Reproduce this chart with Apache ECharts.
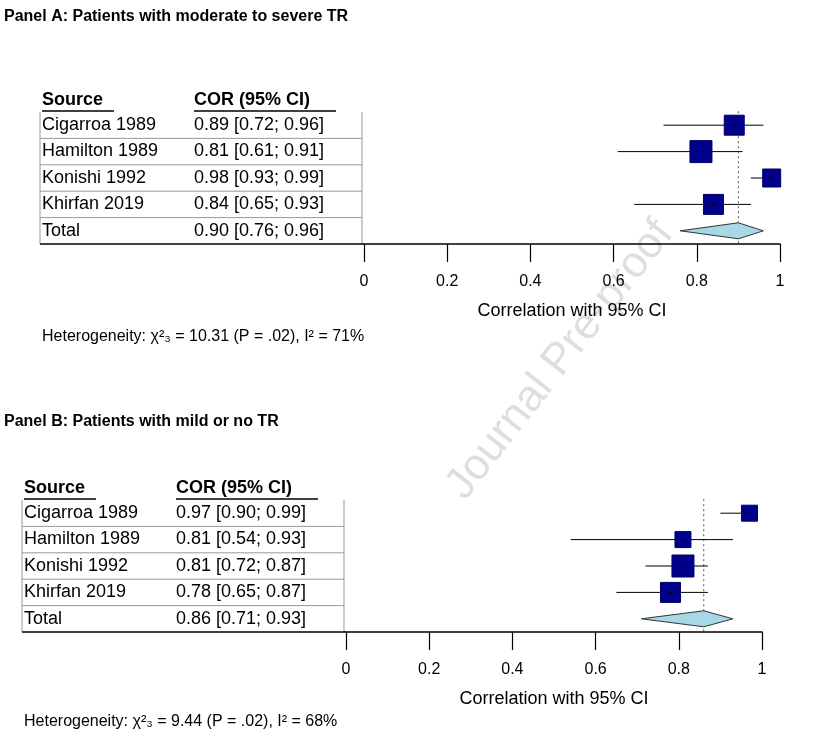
<!DOCTYPE html>
<html><head><meta charset="utf-8">
<script src="https://cdn.jsdelivr.net/npm/echarts@6/dist/echarts.min.js"></script>
<style>html,body{margin:0;padding:0;background:#fff}#c{width:816px;height:755px}</style>
</head><body><div id="c"></div>
<script>
const sources = ['Cigarroa 1989','Hamilton 1989','Konishi 1992','Khirfan 2019','Total'];
const estA = [0.89,0.81,0.98,0.84,0.90];
const loA = [0.72,0.61,0.93,0.65,0.76];
const hiA = [0.96,0.91,0.99,0.93,0.96];
const sizeA = [20,22,18,20];
const estB = [0.97,0.81,0.81,0.78,0.86];
const loB = [0.90,0.54,0.72,0.65,0.71];
const hiB = [0.99,0.93,0.87,0.87,0.93];
const sizeB = [16,16,22,20];
const xTicks = [0,0.2,0.4,0.6,0.8,1];

const F = 'Liberation Sans, Arial, sans-serif';
function fmt(e,l,h){return e.toFixed(2)+' ['+l.toFixed(2)+'; '+h.toFixed(2)+']';}

function forest(est,lo,hi,size,gi){
  const data = est.map((e,i)=>[e,i,lo[i],hi[i],size[i]||0]);
  return {
    type:'custom', xAxisIndex:gi, yAxisIndex:gi, data:data, encode:{x:0,y:1}, clip:false,
    renderItem:function(p,api){
      const i=api.value(1), e=api.value(0), l=api.value(2), h=api.value(3), s=api.value(4);
      const c=api.coord([e,i]), a=api.coord([l,i]), b=api.coord([h,i]);
      if(i===4){
        return {type:'polygon',shape:{points:[[a[0],c[1]],[c[0],c[1]-8],[b[0],c[1]],[c[0],c[1]+8]]},
          style:{fill:'#a6d8e6',stroke:'#333',lineWidth:1}};
      }
      return {type:'group',children:[
        {type:'line',shape:{x1:a[0],y1:c[1],x2:b[0],y2:c[1]},style:{stroke:'#000',lineWidth:1}},
        {type:'rect',shape:{x:c[0]-s/2,y:c[1]-s/2,width:s,height:s},style:{fill:'#00008b',stroke:'#00006a'}},
        {type:'line',shape:{x1:c[0]-2,y1:c[1],x2:c[0]+2,y2:c[1]},style:{stroke:'#000',lineWidth:1}}
      ]};
    }
  };
}
function pooledLine(est,gi){
  return {type:'custom',xAxisIndex:gi,yAxisIndex:gi,data:[[est[4]]],clip:false,
    renderItem:function(p,api){
      const t=api.coord([api.value(0),0]); const btm=api.coord([api.value(0),4]);
      return {type:'line',shape:{x1:t[0],y1:t[1]-14,x2:t[0],y2:btm[1]+13},style:{stroke:'#555',lineWidth:1,lineDash:[2,3]}};
    }};
}
function table(est,lo,hi,x0,x1,yTop,rowH,right,axisLeft){
  const g=[];
  g.push({type:'text',left:x0+2,top:yTop-21,style:{text:'Source',font:'bold 18px '+F,fill:'#000'}});
  g.push({type:'text',left:x1,top:yTop-21,style:{text:'COR (95% CI)',font:'bold 18px '+F,fill:'#000'}});
  g.push({type:'line',shape:{x1:x0+2,y1:yTop-1,x2:x0+74,y2:yTop-1},style:{stroke:'#000',lineWidth:1.5}});
  g.push({type:'line',shape:{x1:x1,y1:yTop-1,x2:x1+142,y2:yTop-1},style:{stroke:'#000',lineWidth:1.5}});
  for(let i=0;i<5;i++){
    const y=yTop+i*rowH;
    g.push({type:'text',left:x0+2,top:y+4,style:{text:sources[i],font:'18px '+F,fill:'#000'}});
    g.push({type:'text',left:x1,top:y+4,style:{text:fmt(est[i],lo[i],hi[i]),font:'18px '+F,fill:'#000'}});
    if(i<4) g.push({type:'line',shape:{x1:x0,y1:y+rowH,x2:right,y2:y+rowH},style:{stroke:'#999',lineWidth:1}});
  }
  g.push({type:'line',shape:{x1:x0,y1:yTop,x2:x0,y2:yTop+5*rowH},style:{stroke:'#999',lineWidth:1}});
  g.push({type:'line',shape:{x1:right,y1:yTop,x2:right,y2:yTop+5*rowH},style:{stroke:'#999',lineWidth:1}});
  g.push({type:'line',shape:{x1:x0,y1:yTop+5*rowH,x2:axisLeft,y2:yTop+5*rowH},style:{stroke:'#000',lineWidth:1.5}});
  return g;
}
const axisCommon = {type:'value',min:0,max:1,interval:0.2,
  axisLine:{show:true,onZero:false,lineStyle:{color:'#000',width:1.5}},
  axisTick:{show:true,length:18,lineStyle:{color:'#000',width:1.2}},
  axisLabel:{fontSize:16,fontFamily:F,color:'#000',margin:30,formatter:v=>String(+v.toFixed(1))},
  splitLine:{show:false},nameLocation:'middle',nameGap:58,nameTextStyle:{fontSize:18,fontFamily:F,color:'#000'},
  name:'Correlation with 95% CI'};
const yCommon = {type:'category',data:sources,inverse:true,show:false};

const chart = echarts.init(document.getElementById('c'));
chart.setOption({
  animation:false,
  grid:[{left:364,right:36,top:112,height:132},{left:346,right:54,top:500,height:132}],
  xAxis:[Object.assign({gridIndex:0},axisCommon),Object.assign({gridIndex:1},axisCommon)],
  yAxis:[Object.assign({gridIndex:0},yCommon),Object.assign({gridIndex:1},yCommon)],
  series:[pooledLine(estA,0),forest(estA,loA,hiA,sizeA,0),pooledLine(estB,1),forest(estB,loB,hiB,sizeB,1)],
  graphic:[
    {type:'text',left:4,top:9,style:{text:'Panel A: Patients with moderate to severe TR',font:'bold 16px '+F,fill:'#000'}},
    {type:'text',left:4,top:414,style:{text:'Panel B: Patients with mild or no TR',font:'bold 16px '+F,fill:'#000'}},
    {type:'text',left:42,top:329,style:{text:'Heterogeneity: χ²₃ = 10.31 (P = .02), I² = 71%',font:'16px '+F,fill:'#000'}},
    {type:'text',left:24,top:714,style:{text:'Heterogeneity: χ²₃ = 9.44 (P = .02), I² = 68%',font:'16px '+F,fill:'#000'}},
    {type:'text',x:560,y:360,rotation:Math.PI*52/180,style:{text:'Journal Pre-proof',font:'44px '+F,fill:'rgba(0,0,0,0.13)',align:'center',verticalAlign:'middle'}}
  ].concat(table(estA,loA,hiA,40,194,112,26.4,362,364)).concat(table(estB,loB,hiB,22,176,500,26.4,344,346))
});
</script></body></html>
